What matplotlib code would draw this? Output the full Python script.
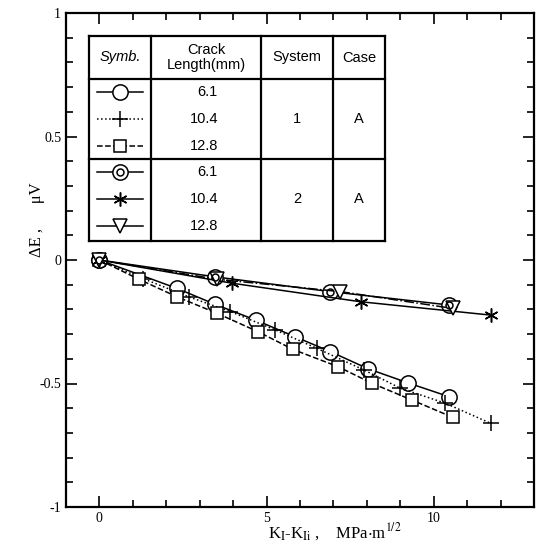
import numpy as np
import matplotlib
matplotlib.use("Agg")
import matplotlib.pyplot as plt
from matplotlib.ticker import MultipleLocator, FixedLocator

plt.rcParams['font.family'] = 'Liberation Serif'
plt.rcParams['mathtext.fontset'] = 'stix'

# System 1
k_circ = [0, 2.32, 3.47, 4.67, 5.84, 6.91, 8.03, 9.22, 10.45]
e_circ = [0, -0.115, -0.18, -0.243, -0.31, -0.371, -0.44, -0.497, -0.553]
k_plus = [0, 1.3, 2.67, 3.92, 5.26, 6.51, 7.91, 9.0, 10.35, 11.7]
e_plus = [0, -0.075, -0.149, -0.209, -0.283, -0.358, -0.445, -0.519, -0.58, -0.661]
k_sq = [0, 1.18, 2.32, 3.52, 4.74, 5.79, 7.14, 8.15, 9.35, 10.57]
e_sq = [0, -0.078, -0.149, -0.216, -0.29, -0.362, -0.432, -0.499, -0.567, -0.637]
# System 2
k_dcirc = [0, 3.45, 6.91, 10.45]
e_dcirc = [0, -0.068, -0.128, -0.182]
k_ast = [0, 3.97, 7.81, 11.7]
e_ast = [0, -0.094, -0.169, -0.223]
k_tri = [0, 3.52, 7.21, 10.57]
e_tri = [0, -0.078, -0.128, -0.196]

crack = ['6.1', '10.4', '12.8', '6.1', '10.4', '12.8']
headers = ['Symb.', 'Crack\nLength(mm)', 'System', 'Case']
yticks = [-1, -0.5, 0, 0.5, 1]
ylabels = ['-1', '-0.5', '0', '0.5', '1']

fig = plt.figure(figsize=(5.41, 5.55), dpi=100)
ax = fig.add_axes([66/541, 1-507/555, 468/541, 494/555])

lw = 1.1
mk = dict(color='k', mfc='white', mec='k', mew=1.1, lw=lw)
styles = [
    (k_circ, e_circ, dict(marker='o', ms=11, ls='-')),
    (k_plus, e_plus, dict(marker='+', ms=11, ls=':')),
    (k_sq, e_sq, dict(marker='s', ms=8.5, ls='--')),
    (k_dcirc, e_dcirc, dict(marker='o', ms=11, ls='-')),
    (k_ast, e_ast, dict(marker=(6, 2, 0), ms=10, ls='-')),
    (k_tri, e_tri, dict(marker='v', ms=9.5, ls='-.')),
]
for x, y, st in styles:
    ax.plot(x, y, **mk, **st)
ax.plot(k_dcirc, e_dcirc, ls='none', marker='o', ms=5, mfc='none', mec='k', mew=1.1)

ax.set_xlim(-1, 13)
ax.set_ylim(-1, 1)
ax.xaxis.set_major_locator(FixedLocator([0, 5, 10]))
ax.xaxis.set_minor_locator(MultipleLocator(1))
ax.set_yticks(yticks)
ax.set_yticklabels(ylabels)
ax.yaxis.set_minor_locator(MultipleLocator(0.1))
ax.tick_params(which='both', direction='in', top=True, right=True, labelsize=10, width=1.2)
ax.tick_params(which='major', length=8)
ax.tick_params(which='minor', length=5)
for s in ax.spines.values():
    s.set_linewidth(1.6)

# table legend
T = ax.transAxes
def fx(px):
    return (px - 66) / 468
def fy(py):
    return (507 - py) / 494

cols = [89, 151, 261, 333, 385]
top, hdr, sep, bot = 36, 79, 159, 241
tk = dict(color='k', lw=1.6, transform=T, solid_capstyle='projecting')
for c in cols:
    ax.plot([fx(c), fx(c)], [fy(top), fy(bot)], **tk)
for r in [top, hdr, sep, bot]:
    ax.plot([fx(cols[0]), fx(cols[-1])], [fy(r), fy(r)], **tk)

hx = [(cols[i] + cols[i+1]) / 2 for i in range(4)]
sans = 'Liberation Sans'
for i, h in enumerate(headers):
    ax.text(fx(hx[i]), fy((top + hdr) / 2), h, transform=T, ha='center', va='center',
            fontsize=10.5, family=sans, style='italic' if i == 0 else 'normal',
            linespacing=1.0)

rh = (sep - hdr) / 3
for i in range(6):
    cy = hdr + rh * (i + 0.5)
    st = dict(styles[i][2])
    ls = '-' if i >= 3 else st['ls']
    ax.plot([fx(97), fx(143)], [fy(cy), fy(cy)], transform=T, color='k', lw=lw, ls=ls)
    ax.plot([fx(120)], [fy(cy)], transform=T, ls='none', marker=st['marker'], ms=st['ms'],
            mfc='white', mec='k', mew=1.1)
    if i == 3:
        ax.plot([fx(120)], [fy(cy)], transform=T, ls='none', marker='o', ms=5,
                mfc='none', mec='k', mew=1.1)
    ax.text(fx(218), fy(cy), crack[i], transform=T, ha='right', va='center',
            fontsize=10.5, family=sans)

for j, lab in enumerate(['1', '2']):
    cy = hdr + rh * (1.5 + 3 * j)
    ax.text(fx(hx[2]), fy(cy), lab, transform=T, ha='center', va='center', fontsize=10.5, family=sans)
    ax.text(fx(hx[3]), fy(cy), 'A', transform=T, ha='center', va='center', fontsize=10.5, family=sans)

fig.text(37/541, 1 - 220/555, 'ΔE ,      μV', rotation=90, ha='center', va='center', fontsize=12)
fig.text(335/541, 1 - 532/555, r'K$_\mathrm{I}$-K$_\mathrm{Ii}$ ,    MPa$\cdot$m$^{1/2}$',
         ha='center', va='center', fontsize=12)

fig.savefig('out.png', dpi=100)
